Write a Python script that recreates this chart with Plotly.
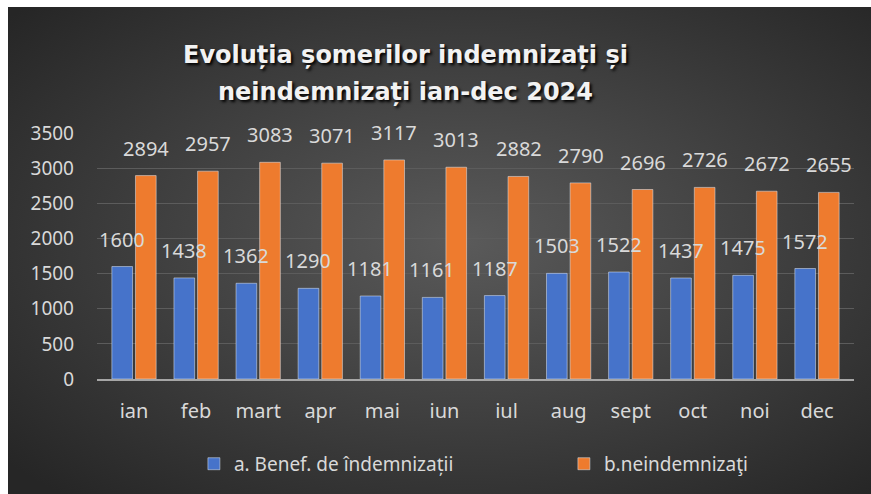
import base64
import plotly.graph_objects as go

# Date: şomeri indemnizaţi / neindemnizaţi, ian-dec 2024
luni = ["ian", "feb", "mart", "apr", "mai", "iun", "iul", "aug", "sept", "oct", "noi", "dec"]
indemnizati = [1600, 1438, 1362, 1290, 1181, 1161, 1187, 1503, 1522, 1437, 1475, 1572]
neindemnizati = [2894, 2957, 3083, 3071, 3117, 3013, 2882, 2790, 2696, 2726, 2672, 2655]

serie_a = "a. Benef. de îndemnizații"
serie_b = "b.neindemnizaţi"
titlu = ["Evoluția șomerilor indemnizați și", "neindemnizați ian-dec 2024"]
y_ticks = [0, 500, 1000, 1500, 2000, 2500, 3000, 3500]

FONT = "Noto Sans"
TXT = "#d9d9d9"
W, H = 871, 494
PW, PH = 757, 246  # zona de desen (px)

# fundal gri cu gradient radial (ca in Excel), cu o margine alba sus/stanga
svg = (
    "<svg xmlns='http://www.w3.org/2000/svg' width='863' height='487' preserveAspectRatio='none'>"
    "<defs><radialGradient id='g' cx='53%' cy='48%' r='70%'>"
    "<stop offset='0' stop-color='#5a5a5a'/><stop offset='1' stop-color='#262626'/>"
    "</radialGradient></defs><rect width='863' height='487' fill='url(#g)'/></svg>"
)
bg_src = "data:image/svg+xml;base64," + base64.b64encode(svg.encode()).decode()

fig = go.Figure()
fig.add_trace(go.Bar(x=luni, y=indemnizati, name=serie_a, marker_color="#4673ca"))
fig.add_trace(go.Bar(x=luni, y=neindemnizati, name=serie_b, marker_color="#ee7b2e"))

# etichete de valori deasupra barelor
for vals, shift in [(indemnizati, -12), (neindemnizati, 12)]:
    for m, v in zip(luni, vals):
        fig.add_annotation(x=m, y=v, text=str(v), showarrow=False, xshift=shift,
                           yanchor="bottom", yshift=12,
                           font=dict(family=FONT, size=20, color=TXT))

# titlu pe doua randuri
for txt, yy in zip(titlu, [1.317, 1.167]):
    fig.add_annotation(text="<b>" + txt + "</b>", xref="paper", yref="paper",
                       x=0.408, y=yy, xanchor="center", yanchor="middle", showarrow=False,
                       font=dict(family="DejaVu Sans", size=24, color="#f2f2f2",
                                 shadow="2px 2px 3px #000"))

fig.add_layout_image(source=bg_src, xref="paper", yref="paper",
                     x=-89 / PW, y=1 + 126 / PH, sizex=863 / PW, sizey=487 / PH,
                     xanchor="left", yanchor="top", sizing="stretch", layer="below")

fig.update_layout(
    width=W, height=H,
    margin=dict(l=97, r=17, t=133, b=115, autoexpand=False),
    paper_bgcolor="white",
    plot_bgcolor="rgba(0,0,0,0)",
    barmode="group", bargap=0.239, bargroupgap=0.125,
    font=dict(family=FONT, color=TXT, size=19),
    showlegend=True,
    legend=dict(orientation="h", x=0.128, xanchor="left", y=-0.345, yanchor="middle",
                font=dict(size=19, color=TXT), entrywidth=325, bgcolor="rgba(0,0,0,0)"),
)
fig.update_yaxes(range=[0, 3500], tickvals=y_ticks, showgrid=True, gridcolor="#5c5c5c",
                 gridwidth=1, zeroline=False, showline=False, ticklabelstandoff=22,
                 tickfont=dict(size=19, color=TXT))
fig.update_xaxes(showline=True, linecolor="#a6a6a6", linewidth=2, ticks="",
                 ticklabelstandoff=13, tickfont=dict(size=20, color=TXT))

# figura lipita de colturile paginii, fara bara de unelte
fig.write_html("out.html", config={"displayModeBar": False},
               post_script="document.body.style.margin = '0'; document.body.style.overflow = 'hidden';")
